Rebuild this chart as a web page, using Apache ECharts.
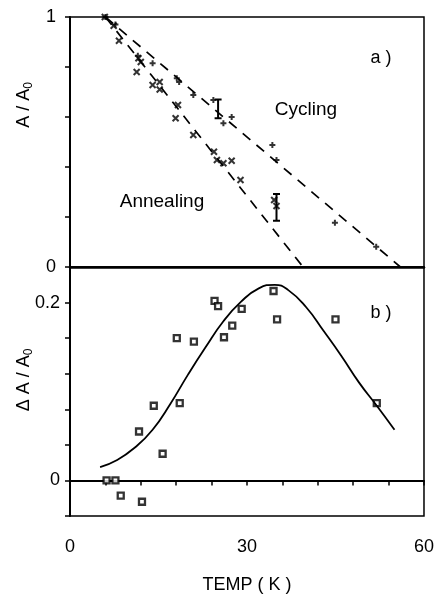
<!DOCTYPE html>
<html>
<head>
<meta charset="utf-8">
<script src="https://cdn.jsdelivr.net/npm/echarts@6/dist/echarts.min.js"></script>
<style>
    html, body { margin: 0; padding: 0; background: #fff; }
    #chart { width: 437px; height: 595px; }
</style>
</head>
<body>
<div id="chart"></div>
<script>
// a) A/A0 vs T, crosses = annealing, plus = cycling
const annealingPts = [
    [5.9, 1.0], [7.4, 0.965], [8.3, 0.905], [11.6, 0.835], [12.0, 0.82],
    [11.3, 0.78], [14.0, 0.728], [15.2, 0.74], [15.2, 0.71], [18.3, 0.648],
    [17.9, 0.595], [20.9, 0.528], [24.4, 0.461], [24.9, 0.428], [26.0, 0.415],
    [27.4, 0.425], [28.9, 0.348], [34.6, 0.268], [35.0, 0.244]
]
const cyclingPts = [
    [6.0, 1.0], [7.7, 0.97], [11.5, 0.845], [14.0, 0.815], [18.1, 0.755],
    [18.5, 0.74], [20.9, 0.688], [24.3, 0.668], [26.0, 0.575], [27.4, 0.60],
    [34.3, 0.488], [35.0, 0.428], [44.9, 0.177], [51.9, 0.081]
]
const cyclingFit = [[6, 1], [56, 0]]
const annealingFit = [[6, 1], [39.5, 0]]
// [T, low, high]
const errBars = [[25.1, 0.595, 0.67], [35.0, 0.185, 0.292]]

// b) dA/A0 vs T
const deltaPts = [
    [6.2, 0.0], [7.7, 0.0], [8.6, -0.017], [12.2, -0.024], [11.7, 0.055],
    [14.2, 0.084], [15.7, 0.03], [18.6, 0.087], [18.1, 0.16], [21.0, 0.156],
    [24.5, 0.202], [25.1, 0.196], [26.1, 0.161], [27.5, 0.174], [29.1, 0.193],
    [34.5, 0.213], [35.1, 0.181], [45.0, 0.181], [52.0, 0.087]
]
const deltaCurve = [
    [5.1, 0.015], [8, 0.023], [11, 0.037], [14, 0.057], [17, 0.086],
    [20, 0.119], [23, 0.15], [26, 0.179], [29, 0.201], [32, 0.216],
    [34.7, 0.22], [37, 0.214], [40, 0.195], [43, 0.168], [46, 0.14],
    [49, 0.11], [52, 0.084], [55, 0.057]
]

const xTicks = [0, 30, 60]
const topYLabels = [0, 1]
const botYLabels = [0, 0.2]

const FONT = 'Liberation Sans, Arial, sans-serif'
const crossSym = 'path://M0,0L10,10M10,0L0,10'
const plusSym = 'path://M5,0L5,10M0,5L10,5'

const hasLabel = (list, v) => list.some(t => Math.abs(t - v) < 1e-9)

const chart = echarts.init(document.getElementById('chart'))

const errorBarItem = (params, api) => {
    const lo = api.coord([api.value(0), api.value(1)])
    const hi = api.coord([api.value(0), api.value(2)])
    const w = 3.5
    const style = { stroke: '#000', lineWidth: 2 }
    return {
        type: 'group',
        children: [
            { type: 'line', shape: { x1: lo[0], y1: lo[1], x2: hi[0], y2: hi[1] }, style },
            { type: 'line', shape: { x1: lo[0] - w, y1: lo[1], x2: lo[0] + w, y2: lo[1] }, style },
            { type: 'line', shape: { x1: hi[0] - w, y1: hi[1], x2: hi[0] + w, y2: hi[1] }, style }
        ]
    }
}

const labelStyle = { fontFamily: FONT, fontSize: 18, color: '#000' }

const option = {
    animation: false,
    backgroundColor: '#fff',
    grid: [
        { left: 70, right: 13, top: 17, height: 250, show: true, borderColor: '#000', borderWidth: 1.5 },
        { left: 70, right: 13, top: 267, height: 253, show: true, borderColor: '#000', borderWidth: 1.5 }
    ],
    xAxis: [
        {
            gridIndex: 0, type: 'value', min: 0, max: 60, interval: 6,
            axisLine: { lineStyle: { color: '#000', width: 2.5 } },
            axisTick: { show: false },
            axisLabel: { show: false },
            splitLine: { show: false }
        },
        {
            gridIndex: 1, type: 'value', min: 0, max: 60, interval: 6,
            name: 'TEMP ( K )', nameLocation: 'middle', nameGap: 60,
            nameTextStyle: labelStyle,
            axisLine: { lineStyle: { color: '#000', width: 2 } },
            axisTick: { inside: false, length: 5, lineStyle: { color: '#000', width: 1.5 } },
            axisLabel: {
                ...labelStyle, margin: 22,
                formatter: v => hasLabel(xTicks, v) ? String(v) : ''
            },
            splitLine: { show: false }
        }
    ],
    yAxis: [
        {
            gridIndex: 0, type: 'value', min: 0, max: 1, interval: 0.2,
            axisLine: { lineStyle: { color: '#000', width: 2 } },
            axisTick: { length: 5, lineStyle: { color: '#000', width: 1.5 } },
            axisLabel: {
                ...labelStyle, margin: 14,
                formatter: v => hasLabel(topYLabels, v) ? String(v) : ''
            },
            splitLine: { show: false }
        },
        {
            gridIndex: 1, type: 'value', min: -0.04, max: 0.24, interval: 0.04,
            axisLine: { lineStyle: { color: '#000', width: 2 } },
            axisTick: { length: 5, lineStyle: { color: '#000', width: 1.5 } },
            axisLabel: {
                ...labelStyle, margin: 10,
                formatter: v => hasLabel(botYLabels, v) ? (Math.abs(v) < 1e-9 ? '0' : '0.2') : ''
            },
            splitLine: { show: false }
        }
    ],
    graphic: [
        {
            type: 'text', x: 24, y: 105, rotation: Math.PI / 2,
            style: {
                text: 'A / A{s|0}', fill: '#000', font: '18px ' + FONT,
                align: 'center', verticalAlign: 'middle',
                rich: { s: { fontSize: 12, fontFamily: FONT, padding: [10, 0, 0, 0] } }
            }
        },
        {
            type: 'text', x: 24, y: 380, rotation: Math.PI / 2,
            style: {
                text: 'Δ A / A{s|0}', fill: '#000', font: '18px ' + FONT,
                align: 'center', verticalAlign: 'middle',
                rich: { s: { fontSize: 12, fontFamily: FONT, padding: [10, 0, 0, 0] } }
            }
        },
        { type: 'text', x: 381, y: 58, style: { text: 'a )', fill: '#000', font: '18px ' + FONT, align: 'center', verticalAlign: 'middle' } },
        { type: 'text', x: 381, y: 313, style: { text: 'b )', fill: '#000', font: '18px ' + FONT, align: 'center', verticalAlign: 'middle' } },
        { type: 'text', x: 306, y: 110, style: { text: 'Cycling', fill: '#000', font: '19px ' + FONT, align: 'center', verticalAlign: 'middle' } },
        { type: 'text', x: 162, y: 202, style: { text: 'Annealing', fill: '#000', font: '19px ' + FONT, align: 'center', verticalAlign: 'middle' } }
    ],
    series: [
        {
            type: 'line', xAxisIndex: 0, yAxisIndex: 0, data: cyclingFit,
            showSymbol: false, lineStyle: { color: '#000', width: 1.7, type: [10, 8] }
        },
        {
            type: 'line', xAxisIndex: 0, yAxisIndex: 0, data: annealingFit,
            showSymbol: false, lineStyle: { color: '#000', width: 1.7, type: [10, 8] }
        },
        {
            type: 'scatter', xAxisIndex: 0, yAxisIndex: 0, data: annealingPts, clip: false,
            symbol: crossSym, symbolSize: 6,
            itemStyle: { color: 'transparent', borderColor: '#000', borderWidth: 2 }
        },
        {
            type: 'scatter', xAxisIndex: 0, yAxisIndex: 0, data: cyclingPts, clip: false,
            symbol: plusSym, symbolSize: 6,
            itemStyle: { color: 'transparent', borderColor: '#000', borderWidth: 2 }
        },
        {
            type: 'custom', xAxisIndex: 0, yAxisIndex: 0, data: errBars,
            renderItem: errorBarItem, encode: { x: 0, y: [1, 2] }
        },
        {
            type: 'line', xAxisIndex: 1, yAxisIndex: 1, data: deltaCurve,
            smooth: true, showSymbol: false, lineStyle: { color: '#000', width: 1.8 }
        },
        {
            type: 'scatter', xAxisIndex: 1, yAxisIndex: 1, data: deltaPts, clip: false,
            symbol: 'rect', symbolSize: 6,
            itemStyle: { color: '#fff', borderColor: '#000', borderWidth: 2.3 }
        }
    ]
}

chart.setOption(option)
</script>
</body>
</html>
